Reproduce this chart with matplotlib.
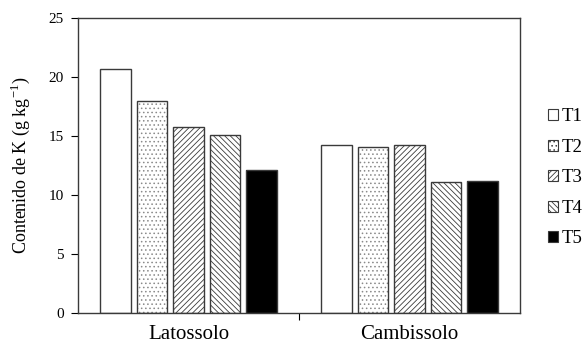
import numpy as np
import matplotlib
matplotlib.use("Agg")
import matplotlib.pyplot as plt

plt.rcParams['font.family'] = ['Liberation Serif', 'DejaVu Serif']
plt.rcParams['hatch.linewidth'] = 0.6

soils = ["Latossolo", "Cambissolo"]
treatments = ["T1", "T2", "T3", "T4", "T5"]
# K content (g kg-1) per treatment, one value per soil
values = {
    "T1": [20.65, 14.2],
    "T2": [18.0, 14.1],
    "T3": [15.75, 14.2],
    "T4": [15.1, 11.1],
    "T5": [12.15, 11.2],
}
yticks = [0, 5, 10, 15, 20, 25]

fills = ["white", "white", "white", "white", "black"]
hatches = [None, "....", "//////", "\\\\\\\\\\\\", None]
hatch_cols = ["none", "#8a8a8a", "#3a3a3a", "#3a3a3a", "none"]

fig = plt.figure(figsize=(5.86, 3.48), dpi=100)
ax = fig.add_axes([0.1331, 0.1006, 0.7543, 0.8474])

centers = np.arange(len(soils)) + 0.5
pitch = 0.165
width = 0.137
for i, t in enumerate(treatments):
    x = centers + (i - 2) * pitch
    # fill + hatch first, then the outline on top
    ax.bar(x, values[t], width, color=fills[i], edgecolor=hatch_cols[i],
           linewidth=0, hatch=hatches[i])
    ax.bar(x, values[t], width, color="none", edgecolor="#3a3a3a",
           linewidth=1.0)
    # legend proxy
    ax.bar([0], [0], 0, color=fills[i], edgecolor="#3a3a3a", linewidth=0.8,
           hatch=hatches[i], label=t)

ax.set_xlim(0, 2)
ax.set_ylim(0, 25)
ax.set_yticks(yticks)
ax.set_xticks([1])
ax.set_xticklabels([""])
ax.set_xticks(centers, minor=True)
ax.set_xticklabels(soils, minor=True, fontsize=15)
ax.tick_params(axis="x", which="minor", length=0, pad=9)
ax.tick_params(axis="x", which="major", length=5, direction="out")
ax.tick_params(axis="y", length=5, direction="out", labelsize=11, pad=5)
for s in ax.spines.values():
    s.set_color("#3a3a3a")
    s.set_linewidth(1.0)

ax.set_ylabel("Contenido de K (g kg$^{\\mathregular{-1}}$)", fontsize=13, labelpad=12)

ax.legend(loc="center left", bbox_to_anchor=(1.025, 0.458), frameon=False,
          fontsize=13.5, handlelength=0.55, handleheight=0.55, handletextpad=0.2,
          labelspacing=0.72)

fig.savefig("out.png", dpi=100)
